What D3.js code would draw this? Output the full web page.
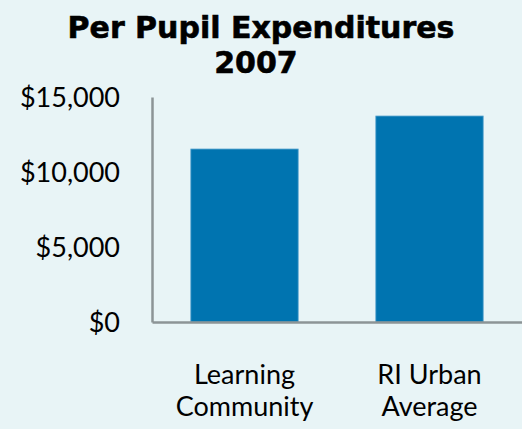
<!DOCTYPE html>
<html>
<head>
<meta charset="utf-8">
<script src="https://cdn.jsdelivr.net/npm/d3@7"></script>
<style>
  html, body { margin: 0; padding: 0; background: #e8f4f6; }
  svg { display: block; }
  .title { font-family: "DejaVu Sans", sans-serif; font-weight: bold; font-size: 30px; fill: #000; stroke: #000; stroke-width: 0.6px; }
  .axis text { font-family: Lato, sans-serif; font-size: 27px; fill: #000; }
</style>
</head>
<body>
<script>
var categories = [["Learning", "Community"], ["RI Urban", "Average"]];
var values = [11530, 13730];
var yTicks = [0, 5000, 10000, 15000];

var width = 522, height = 429;
var margin = { top: 97, right: 0, bottom: 107, left: 152 };
var innerW = width - margin.left - margin.right;
var innerH = height - margin.top - margin.bottom;

var svg = d3.select("body").append("svg")
    .attr("width", width)
    .attr("height", height);

svg.append("rect").attr("width", width).attr("height", height).attr("fill", "#e8f4f6");

// title
svg.append("text").attr("class", "title")
    .attr("text-anchor", "middle")
    .attr("x", 261).attr("y", 38)
    .text("Per Pupil Expenditures");
svg.append("text").attr("class", "title")
    .attr("text-anchor", "middle")
    .attr("x", 256).attr("y", 73)
    .text("2007");

var grp = svg.append("g")
    .attr("transform", "translate(" + margin.left + "," + margin.top + ")");

var x = d3.scaleBand()
    .domain(d3.range(categories.length))
    .range([0, innerW])
    .paddingInner(0.42)
    .paddingOuter(0.21);

var y = d3.scaleLinear()
    .domain([0, 15000])
    .range([innerH, 0]);

grp.selectAll("rect.bar")
    .data(values)
  .enter().append("rect")
    .attr("class", "bar")
    .attr("x", function(d, i) { return x(i); })
    .attr("y", function(d) { return y(d); })
    .attr("width", x.bandwidth())
    .attr("height", function(d) { return innerH - y(d); })
    .attr("fill", "#0074b0")
    .attr("stroke", "#4a9ccb")
    .attr("stroke-width", 0.8);

// y axis
var yAxis = grp.append("g").attr("class", "axis")
    .call(d3.axisLeft(y).tickValues(yTicks).tickSize(0).tickPadding(32)
        .tickFormat(function(d) { return "$" + d3.format(",")(d); }));
yAxis.select(".domain").attr("stroke", "#8c9496").attr("stroke-width", 2.5);
yAxis.selectAll("text").attr("dy", "0.35em");

// x axis
var xAxis = grp.append("g").attr("class", "axis")
    .attr("transform", "translate(0," + innerH + ")")
    .call(d3.axisBottom(x).tickSize(0).tickFormat(""));
xAxis.select(".domain").attr("stroke", "#8c9496").attr("stroke-width", 2.5);

xAxis.selectAll(".tick").each(function(d) {
    var t = d3.select(this).select("text").text(null).attr("y", 0).attr("dy", null);
    categories[d].forEach(function(line, k) {
        t.append("tspan").attr("x", 0).attr("y", 62 + k * 32).text(line);
    });
});
</script>
</body>
</html>
